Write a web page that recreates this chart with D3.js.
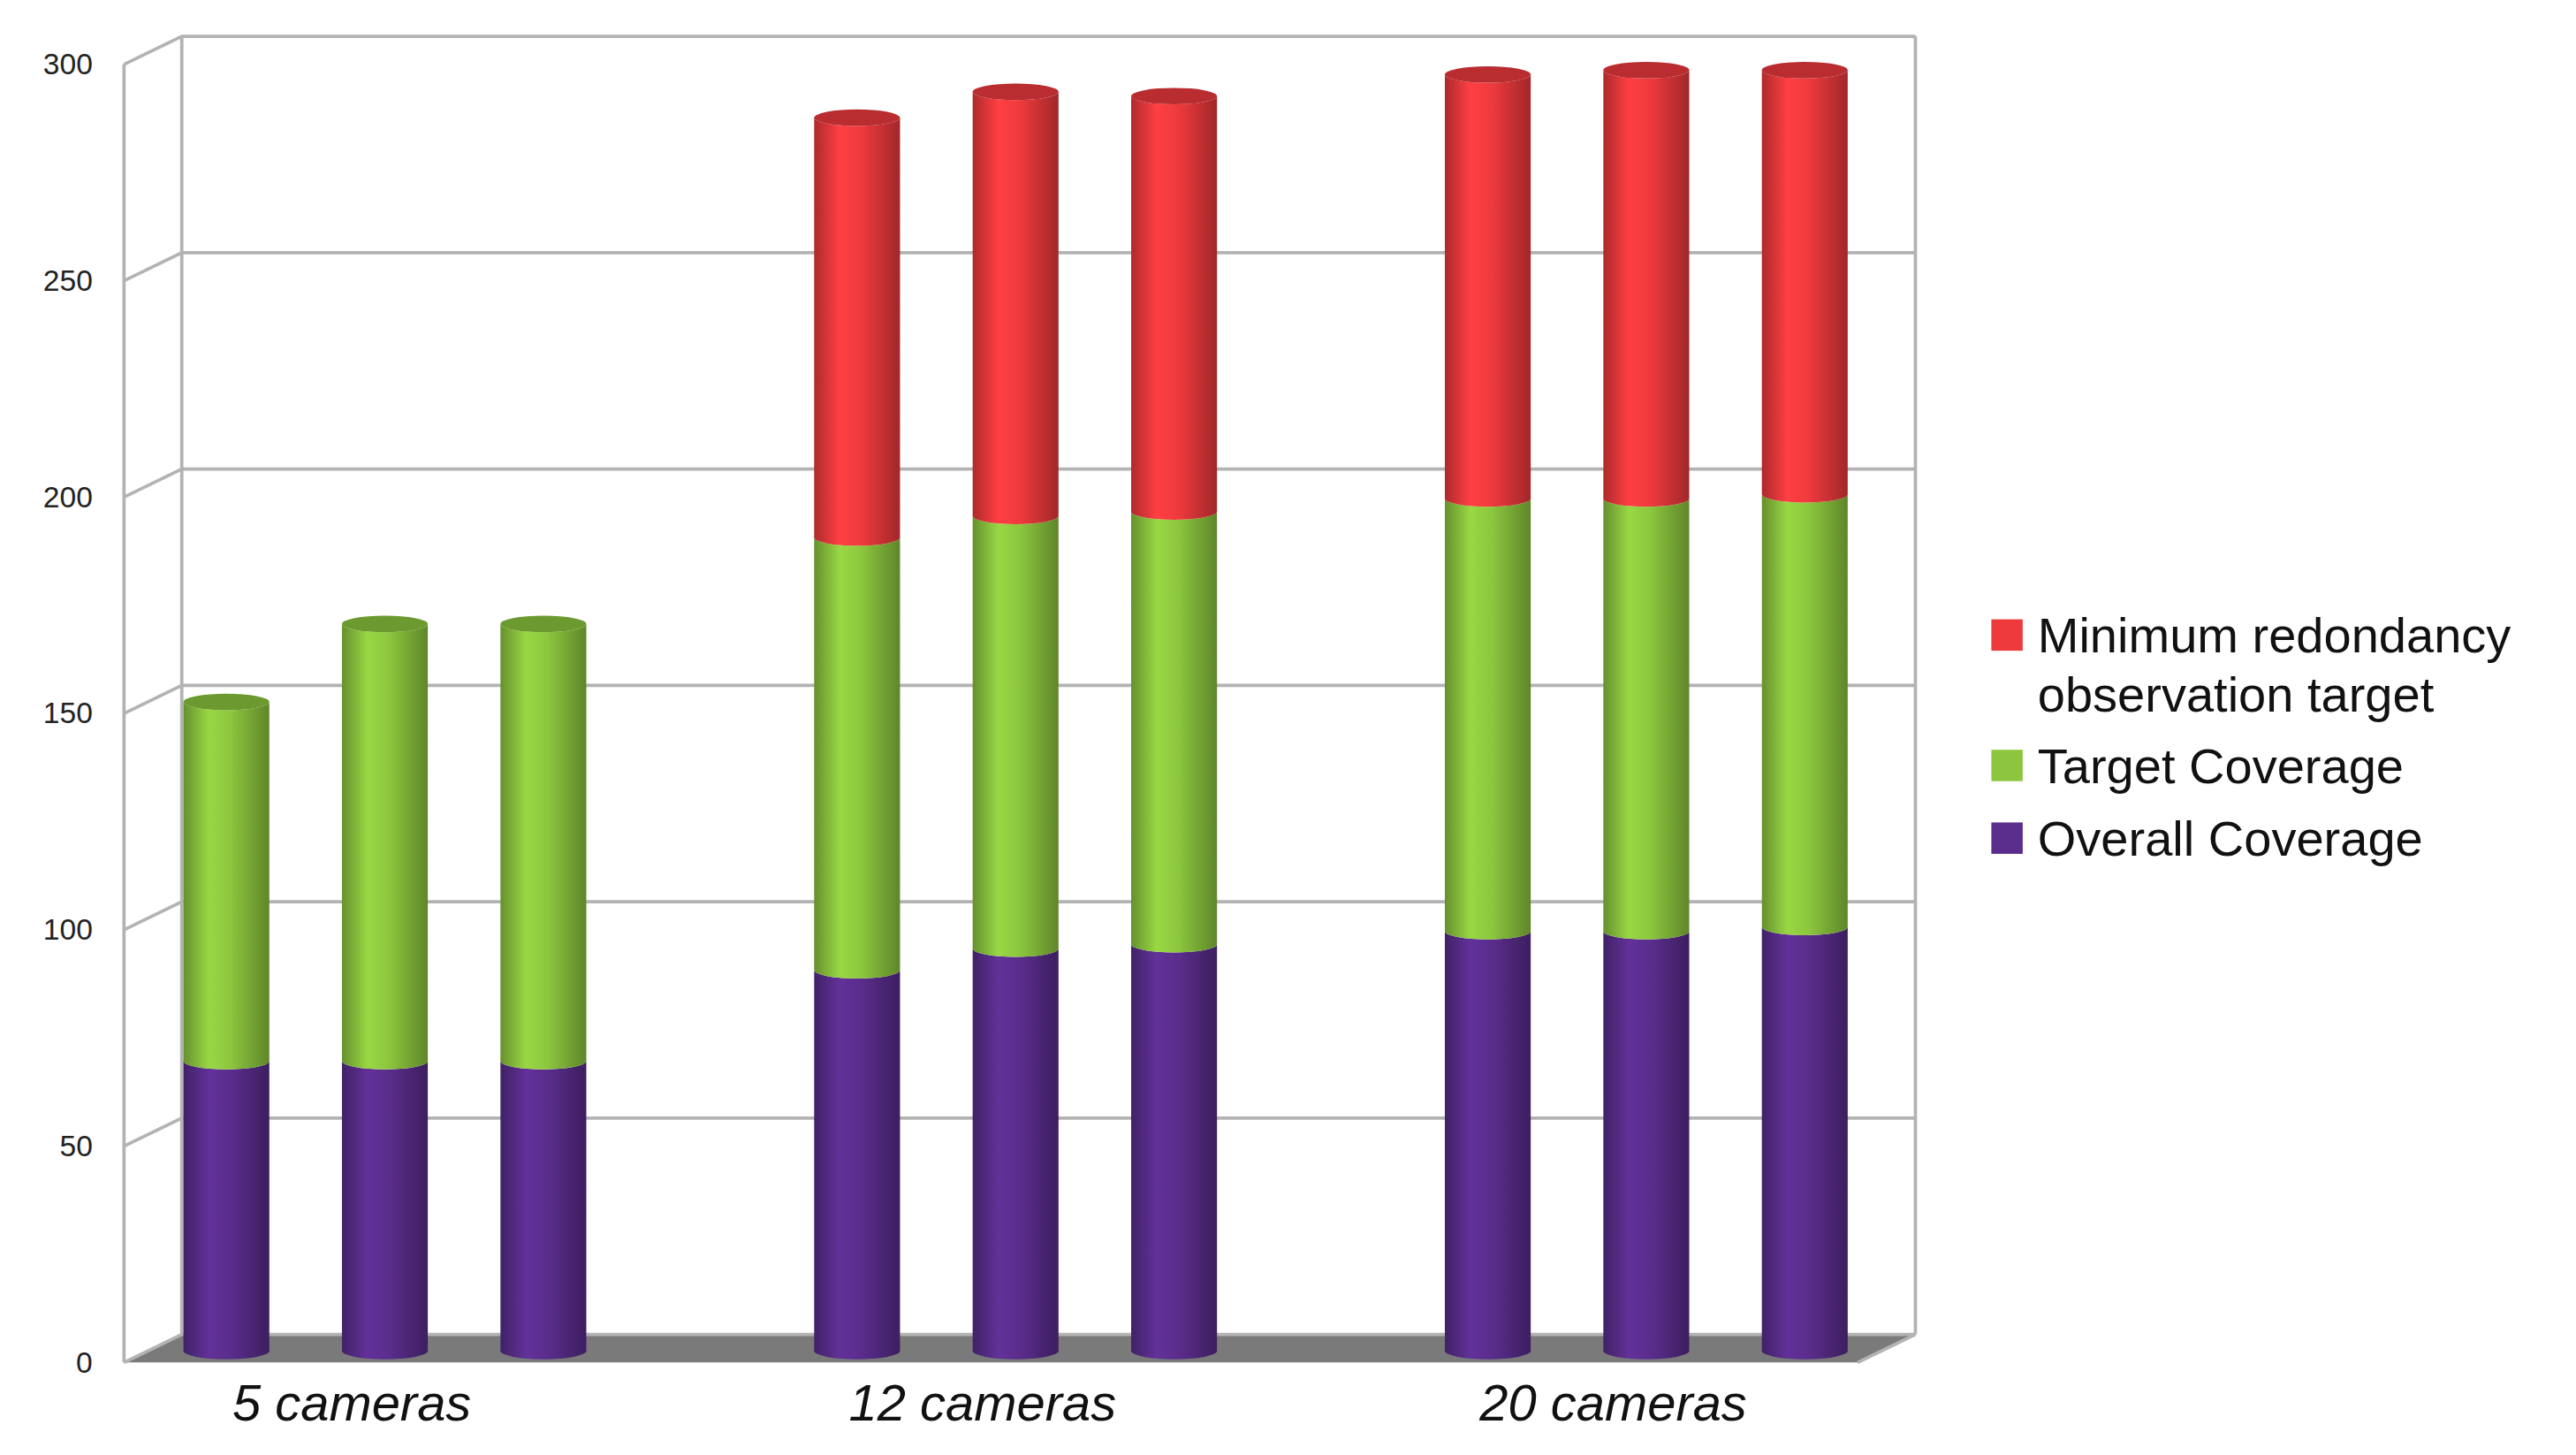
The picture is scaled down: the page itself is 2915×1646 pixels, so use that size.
<!DOCTYPE html>
<html><head><meta charset="utf-8">
<script src="https://cdn.jsdelivr.net/npm/d3@7"></script>
<style>body{margin:0;background:#fff}text{font-family:"Liberation Sans",Arial,sans-serif}</style>
</head><body>
<script>
const groups = ["5 cameras", "12 cameras", "20 cameras"];
const seriesNames = ["Overall Coverage", "Target Coverage", "Minimum redondancy observation target"];
const colors = ["#5a2d8c", "#8cc63e", "#ee3a3d"];
const overall = [67, 67, 67, 88, 93, 94, 97, 97, 98];
const target = [83, 101, 101, 100, 100, 100, 100, 100, 100];
const redundancy = [0, 0, 0, 97, 98, 96, 98, 99, 98];
const ticks = [0, 50, 100, 150, 200, 250, 300];

const W = 1560, H = 881;
const svg = d3.select("body").append("svg")
  .attr("width", 2915).attr("height", 1646)
  .attr("viewBox", `0 0 ${W} ${H}`);

const dx = 35, dy = -17;
const yFront = d3.scaleLinear().domain([0, 300]).range([825, 39]);
const yBar = d3.scaleLinear().domain([0, 300]).range([818, 32]);
const xBack0 = 110, xBack1 = 1160;

// gradients for cylinders
const defs = svg.append("defs");
colors.forEach((c, i) => {
  const g = defs.append("linearGradient").attr("id", "g" + i);
  const base = d3.color(c);
  [[0, base.darker(0.9)], [0.3, base.brighter(0.25)], [0.55, base], [1, base.darker(1.1)]]
    .forEach(([o, col]) => g.append("stop").attr("offset", o).attr("stop-color", col));
});

// floor
svg.append("polygon")
  .attr("points", [[75, 825], [75 + dx, 825 + dy], [xBack1, 825 + dy], [xBack1 - dx, 825]].join(" "))
  .attr("fill", "#7a7a7a");

const grid = svg.append("g").attr("stroke", "#b3b3b3").attr("stroke-width", 2).attr("fill", "none");
ticks.forEach(t => {
  const y = yFront(t);
  grid.append("polyline").attr("points", [[75, y], [75 + dx, y + dy], [xBack1, y + dy]].join(" "));
});
grid.append("line").attr("x1", 75).attr("x2", 75).attr("y1", yFront(300)).attr("y2", yFront(0));
grid.append("line").attr("x1", xBack0).attr("x2", xBack0).attr("y1", yFront(300) + dy).attr("y2", yFront(0) + dy);
grid.append("line").attr("x1", xBack1).attr("x2", xBack1).attr("y1", yFront(300) + dy).attr("y2", yFront(0) + dy);
grid.append("line").attr("x1", xBack1).attr("x2", xBack1 - dx).attr("y1", yFront(0) + dy).attr("y2", yFront(0));

svg.append("g").selectAll("text").data(ticks).join("text")
  .attr("x", 56).attr("y", d => yFront(d) + 6).attr("text-anchor", "end")
  .attr("font-size", 18).attr("fill", "#222").text(d => d);

// bars
const xGroup = d3.scaleBand().domain(groups).range([42, 1188]).padding(0);
const xInner = d3.scalePoint().domain([0, 1, 2]).range([-96, 96]);
const bw = 52, ry = 5;
const bars = svg.append("g");
overall.forEach((v, i) => {
  const gi = Math.floor(i / 3), k = i % 3;
  const cx = xGroup(groups[gi]) + xGroup.bandwidth() / 2 + xInner(k);
  const x = cx - bw / 2;
  const vals = [overall[i], target[i], redundancy[i]];
  let acc = 0;
  const segs = [];
  vals.forEach((val, s) => { if (val > 0) { segs.push({ s, y0: acc, y1: acc + val }); } acc += val; });
  segs.forEach(seg => {
    const yt = yBar(seg.y1), yb = yBar(seg.y0);
    bars.append("path")
      .attr("d", `M${x},${yt} L${x},${yb} A${bw / 2},${ry} 0 0 0 ${x + bw},${yb} L${x + bw},${yt} A${bw / 2},${ry} 0 0 1 ${x},${yt} Z`)
      .attr("fill", `url(#g${seg.s})`);
  });
  const top = segs[segs.length - 1];
  bars.append("ellipse").attr("cx", cx).attr("cy", yBar(top.y1)).attr("rx", bw / 2).attr("ry", ry)
    .attr("fill", d3.color(colors[top.s]).darker(0.7));
});

// category labels
svg.append("g").selectAll("text").data(groups).join("text")
  .attr("x", d => xGroup(d) + xGroup.bandwidth() / 2 - 20).attr("y", 860)
  .attr("text-anchor", "middle").attr("font-size", 31).attr("font-style", "italic")
  .attr("fill", "#111").text(d => d);

// legend
const legend = svg.append("g").attr("transform", "translate(1206,0)");
const items = [
  { c: colors[2], lines: ["Minimum redondancy", "observation target"], y: 385 },
  { c: colors[1], lines: ["Target Coverage"], y: 464 },
  { c: colors[0], lines: ["Overall Coverage"], y: 508 }
];
items.forEach(it => {
  legend.append("rect").attr("x", 0).attr("y", it.y - 10).attr("width", 19).attr("height", 19).attr("fill", it.c);
  it.lines.forEach((l, j) => legend.append("text").attr("x", 28).attr("y", it.y + 10 + j * 36)
    .attr("font-size", 30).attr("fill", "#111").text(l));
});
</script>
</body></html>
